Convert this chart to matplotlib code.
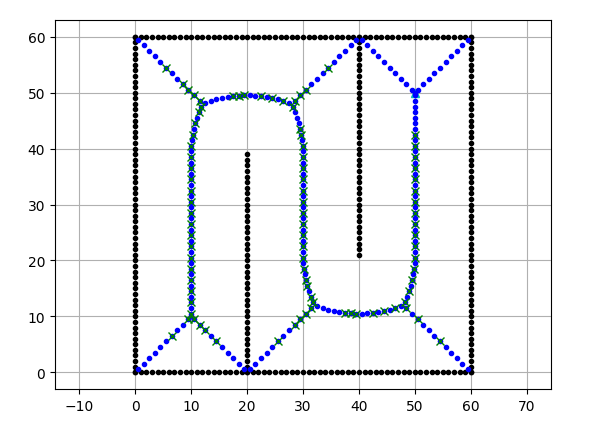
import numpy as np
import matplotlib
matplotlib.use("Agg")
import matplotlib.pyplot as plt

# ---- obstacles (integer grid points) ----
side = list(range(0, 61))
wall_a_y = list(range(0, 40))          # x = 20
wall_b_y = list(range(21, 61))         # x = 40

ox = ([float(v) for v in side] + [60.0] * 61 + [float(v) for v in side] + [0.0] * 61
      + [20.0] * len(wall_a_y) + [40.0] * len(wall_b_y))
oy = ([0.0] * 61 + [float(v) for v in side] + [60.0] * 61 + [float(v) for v in side]
      + [float(v) for v in wall_a_y] + [float(v) for v in wall_b_y])

start = (10.0, 10.0)
goal = (50.0, 50.0)

# ---- sample (Voronoi) points, read segment by segment ----
segA_x = [0.5, 1.5, 2.5, 3.5, 4.5, 5.5, 6.5, 7.5, 8.5, 9.5]
segA_y = [0.5, 1.5, 2.5, 3.5, 4.5, 5.5, 6.5, 7.5, 8.5, 9.5]
segB_x = [19.5, 18.5, 17.5, 16.5, 15.5, 14.5, 13.5, 12.5, 11.5, 10.5]
segB_y = [0.5, 1.5, 2.5, 3.5, 4.5, 5.5, 6.5, 7.5, 8.5, 9.5]
segC_y = [10.5, 11.5, 12.5, 13.5, 14.5, 15.5, 16.5, 17.5, 18.5, 19.5, 20.5, 21.5,
          22.5, 23.5, 24.5, 25.5, 26.5, 27.5, 28.5, 29.5, 30.5, 31.5, 32.5, 33.5,
          34.5, 35.5, 36.5, 37.5, 38.5]
segC_x = [10.0] * len(segC_y)
segD_x = [10.0, 10.05, 10.15, 10.3, 10.5, 10.75, 11.05, 11.4, 11.8]
segD_y = [39.5, 40.5, 41.5, 42.5, 43.5, 44.5, 45.5, 46.5, 47.5]
segE_x = [0.5, 1.5, 2.5, 3.5, 4.5, 5.5, 6.5, 7.5, 8.5, 9.5, 10.5, 11.5]
segE_y = [59.5, 58.5, 57.5, 56.5, 55.5, 54.5, 53.5, 52.5, 51.5, 50.5, 49.5, 48.5]
segF_x = [12.5, 13.5, 14.5, 15.5, 16.5, 17.5, 18.5, 19.5, 20.5, 21.5, 22.5, 23.5,
          24.5, 25.5, 26.5, 27.5]
segF_y = [48.17, 48.5, 48.79, 49.02, 49.21, 49.36, 49.45, 49.5, 49.5, 49.45, 49.36,
          49.21, 49.02, 48.79, 48.5, 48.17]
segG_x = [28.5, 29.5, 30.5, 31.5, 32.5, 33.5, 34.5, 35.5, 36.5, 37.5, 38.5, 39.5]
segG_y = [48.5, 49.5, 50.5, 51.5, 52.5, 53.5, 54.5, 55.5, 56.5, 57.5, 58.5, 59.5]
segH_x = [30.0, 29.95, 29.85, 29.7, 29.5, 29.25, 28.95, 28.6, 28.2]
segH_y = [39.5, 40.5, 41.5, 42.5, 43.5, 44.5, 45.5, 46.5, 47.5]
segI_y = [21.5, 22.5, 23.5, 24.5, 25.5, 26.5, 27.5, 28.5, 29.5, 30.5, 31.5, 32.5,
          33.5, 34.5, 35.5, 36.5, 37.5, 38.5]
segI_x = [30.0] * len(segI_y)
segJ_x = [30.0, 30.05, 30.15, 30.3, 30.5, 30.75, 31.05, 31.4, 31.8]
segJ_y = [20.5, 19.5, 18.5, 17.5, 16.5, 15.5, 14.5, 13.5, 12.5]
segK_x = [20.5, 21.5, 22.5, 23.5, 24.5, 25.5, 26.5, 27.5, 28.5, 29.5, 30.5, 31.5]
segK_y = [0.5, 1.5, 2.5, 3.5, 4.5, 5.5, 6.5, 7.5, 8.5, 9.5, 10.5, 11.5]
segL_x = [32.5, 33.5, 34.5, 35.5, 36.5, 37.5, 38.5, 39.5, 40.5, 41.5, 42.5, 43.5,
          44.5, 45.5, 46.5, 47.5]
segL_y = [11.83, 11.5, 11.21, 10.98, 10.79, 10.64, 10.55, 10.5, 10.5, 10.55, 10.64,
          10.79, 10.98, 11.21, 11.5, 11.83]
segM_x = [48.5, 49.5, 50.5, 51.5, 52.5, 53.5, 54.5, 55.5, 56.5, 57.5, 58.5, 59.5]
segM_y = [11.5, 10.5, 9.5, 8.5, 7.5, 6.5, 5.5, 4.5, 3.5, 2.5, 1.5, 0.5]
segN_x = [48.2, 48.6, 48.95, 49.25, 49.5, 49.7, 49.85, 49.95, 50.0]
segN_y = [12.5, 13.5, 14.5, 15.5, 16.5, 17.5, 18.5, 19.5, 20.5]
segO_y = [21.5, 22.5, 23.5, 24.5, 25.5, 26.5, 27.5, 28.5, 29.5, 30.5, 31.5, 32.5,
          33.5, 34.5, 35.5, 36.5, 37.5, 38.5, 39.5, 40.5, 41.5, 42.5, 43.5, 44.5,
          45.5, 46.5, 47.5, 48.5, 49.5]
segO_x = [50.0] * len(segO_y)
segP_x = [49.5, 48.5, 47.5, 46.5, 45.5, 44.5, 43.5, 42.5, 41.5, 40.5]
segP_y = [50.5, 51.5, 52.5, 53.5, 54.5, 55.5, 56.5, 57.5, 58.5, 59.5]
segQ_x = [50.5, 51.5, 52.5, 53.5, 54.5, 55.5, 56.5, 57.5, 58.5, 59.5]
segQ_y = [50.5, 51.5, 52.5, 53.5, 54.5, 55.5, 56.5, 57.5, 58.5, 59.5]

sample_x = (segA_x + segB_x + segC_x + segD_x + segE_x + segF_x + segG_x + segH_x
            + segI_x + segJ_x + segK_x + segL_x + segM_x + segN_x + segO_x + segP_x
            + segQ_x + [start[0], goal[0]])
sample_y = (segA_y + segB_y + segC_y + segD_y + segE_y + segF_y + segG_y + segH_y
            + segI_y + segJ_y + segK_y + segL_y + segM_y + segN_y + segO_y + segP_y
            + segQ_y + [start[1], goal[1]])

# ---- expanded (searched) nodes, plotted as green x ----
visit_x = ([6.5, 9.5, 10.5, 11.5, 12.5, 14.5]
           + [10.0] * 15 + [10.05, 10.3, 10.75, 11.4, 11.8]
           + [5.5, 8.5, 9.5, 10.5, 11.5]
           + [17.5, 18.5, 19.5, 22.5, 24.5, 26.5]
           + [28.5, 29.5, 30.5, 34.5]
           + [28.2, 29.5, 29.7, 29.95] + [30.0] * 9
           + [30.0, 30.15, 30.5, 30.75, 31.4, 31.8]
           + [25.5, 28.5, 29.5, 30.5, 31.5]
           + [37.5, 38.5, 39.5, 42.5, 44.5, 46.5]
           + [48.5, 50.5, 54.5]
           + [48.2, 48.95, 49.5, 49.85, 50.0] + [50.0] * 11)
visit_y = ([6.5, 9.5, 9.5, 8.5, 7.5, 5.5]
           + [10.5, 12.5, 14.5, 16.5, 18.5, 20.5, 22.5, 24.5, 26.5, 28.5, 30.5, 32.5,
              34.5, 36.5, 38.5] + [40.5, 42.5, 44.5, 46.5, 47.5]
           + [54.5, 51.5, 50.5, 49.5, 48.5]
           + [49.36, 49.45, 49.5, 49.36, 49.02, 48.5]
           + [48.5, 49.5, 50.5, 54.5]
           + [47.5, 43.5, 42.5, 40.5] + [38.5, 36.5, 34.5, 32.5, 30.5, 28.5, 26.5,
                                         24.5, 22.5]
           + [20.5, 18.5, 16.5, 15.5, 13.5, 12.5]
           + [5.5, 8.5, 9.5, 10.5, 11.5]
           + [10.64, 10.55, 10.5, 10.64, 10.98, 11.5]
           + [11.5, 9.5, 5.5]
           + [12.5, 14.5, 16.5, 18.5, 20.5]
           + [22.5, 24.5, 26.5, 28.5, 30.5, 32.5, 34.5, 36.5, 38.5, 40.5, 42.5])

fig = plt.figure(figsize=(5.89, 4.35), dpi=100)
ax = fig.add_axes([55 / 589, 45 / 435, 496 / 589, 369 / 435])
ax.plot(ox, oy, ".k")
ax.plot(goal[0], goal[1], "^c")
ax.plot(sample_x, sample_y, ".b")
ax.plot(visit_x, visit_y, "xg")
ax.grid(True)
ax.axis("equal")
fig.savefig("out.png", dpi=100)
